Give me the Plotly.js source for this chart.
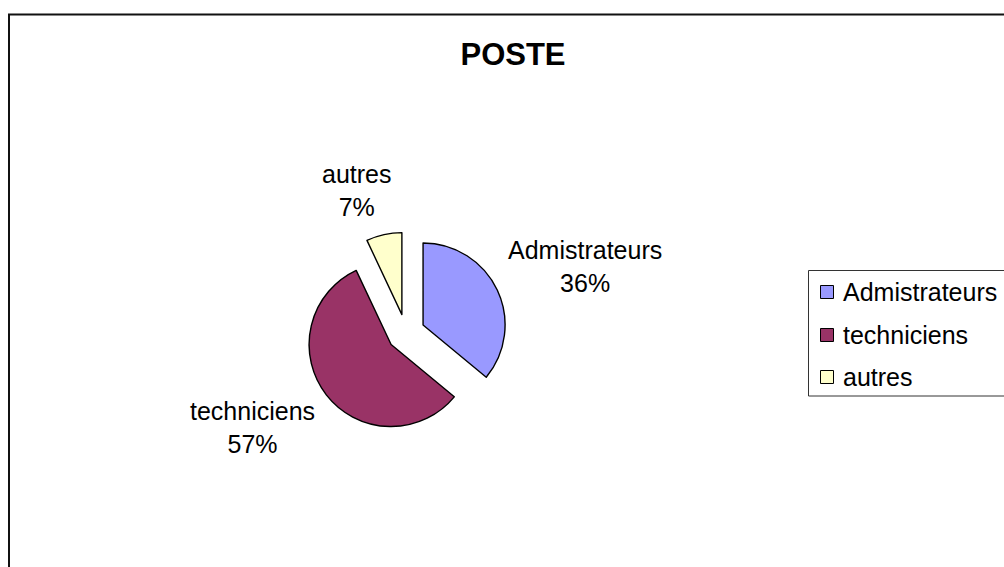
<!DOCTYPE html>
<html>
<head>
<meta charset="utf-8">
<script src="https://cdn.plot.ly/plotly-3.0.1.min.js"></script>
<style>html,body{margin:0;padding:0;background:#fff;}#chart{width:1004px;height:567px;}</style>
</head>
<body>
<div id="chart"></div>
<script>
const chartTitle = "POSTE";
const labels = ["Admistrateurs", "techniciens", "autres"];
const values = [36, 57, 7];
const colors = ["#9999FF", "#993366", "#FFFFCC"];

const W = 1004, H = 567;
const px = x => x / W;
const py = y => 1 - y / H;

const total = values.reduce((a, b) => a + b, 0);
const pcts = values.map(v => Math.round(v / total * 100) + "%");

// pie geometry (pixels)
const cx = 406, cy = 333, r = 82, pull = 0.23;
const half = r * (1 + pull);

const trace = {
  type: "pie",
  labels: labels,
  values: values,
  sort: false,
  direction: "clockwise",
  rotation: 0,
  pull: values.map(() => pull),
  marker: {colors: colors, line: {color: "#000", width: 1.4}},
  textinfo: "none",
  hoverinfo: "skip",
  showlegend: false,
  domain: {x: [px(cx - half), px(cx + half)], y: [py(cy + half), py(cy - half)]}
};

const labelPos = [[585, 266], [252, 427], [356, 190]];
const font = {family: "Liberation Sans, Arial, sans-serif", size: 25, color: "#000"};

const annotations = labels.map((l, i) => ({
  xref: "paper", yref: "paper",
  x: px(labelPos[i][0]), y: py(labelPos[i][1]),
  xanchor: "center", yanchor: "middle",
  text: l + "<br>" + pcts[i],
  showarrow: false, font: font
}));

const shapes = [
  {type: "rect", xref: "paper", yref: "paper", x0: px(9), x1: 1.05, y0: -0.05, y1: py(14.5),
   line: {color: "#111", width: 2}, fillcolor: "rgba(0,0,0,0)"},
  {type: "rect", xref: "paper", yref: "paper", x0: px(808.5), x1: 1.05, y0: py(396), y1: py(270.5),
   line: {color: "#333", width: 1}, fillcolor: "rgba(0,0,0,0)"}
];

const legY = [292, 335, 377];
labels.forEach((l, i) => {
  shapes.push({type: "rect", xref: "paper", yref: "paper",
    x0: px(820.5), x1: px(833.5), y0: py(legY[i] + 6.5), y1: py(legY[i] - 6.5),
    line: {color: "#000", width: 1}, fillcolor: colors[i]});
  annotations.push({xref: "paper", yref: "paper", x: px(841), y: py(legY[i]),
    xanchor: "left", yanchor: "middle", text: l, showarrow: false, font: font});
});

const layout = {
  width: W, height: H,
  margin: {l: 0, r: 0, t: 0, b: 0},
  paper_bgcolor: "#fff",
  title: {text: "<b>" + chartTitle + "</b>", x: px(513), y: py(54), xanchor: "center", yanchor: "middle",
          font: {family: "Liberation Sans, Arial, sans-serif", size: 31, color: "#000"}},
  showlegend: false,
  hovermode: false,
  annotations: annotations,
  shapes: shapes
};

Plotly.newPlot("chart", [trace], layout, {displayModeBar: false, staticPlot: true});
</script>
</body>
</html>
